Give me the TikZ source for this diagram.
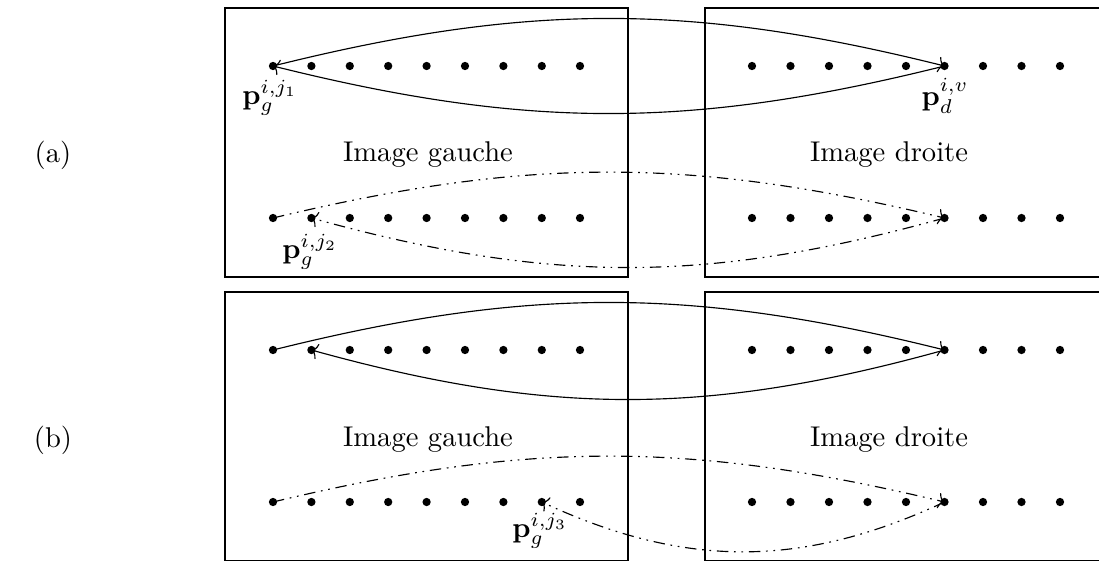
\documentclass[tikz,border=0pt]{standalone}
\usetikzlibrary{arrows.meta}
\begin{document}
\begin{tikzpicture}[x=0.35pt,y=-0.35pt,
  pt/.style={circle,fill,inner sep=0pt,minimum size=2.9pt},
  frame/.style={draw,line width=0.4pt},
  conn/.style={-{To[length=2.2pt,width=5.5pt]},line width=0.4pt},
  dd/.style={conn,dash pattern=on 4pt off 2pt on 0.6pt off 2pt on 0.6pt off 2pt}]
\useasboundingbox (0,0) rectangle (1099,561);
% frames
\node[frame,minimum width=403*0.35pt,minimum height=269*0.35pt,inner sep=0pt] (la) at (426.5,142.5) {};
\node[frame,minimum width=403*0.35pt,minimum height=269*0.35pt,inner sep=0pt] (ra) at (906.5,142.5) {};
\node[frame,minimum width=403*0.35pt,minimum height=269*0.35pt,inner sep=0pt] (lb) at (426.5,426.5) {};
\node[frame,minimum width=403*0.35pt,minimum height=269*0.35pt,inner sep=0pt] (rb) at (906.5,426.5) {};
% dots
\foreach \r/\y in {A/66,B/218,C/350,D/502}{
  \foreach \i in {1,...,8}{
    \node[pt] (g\r\i) at ({273+38.4*(\i-1)},\y) {};
  }
  \node[pt] (g\r9) at (580,\y) {};
  \foreach \i in {1,...,9}{
    \node[pt] (d\r\i) at ({752+38.5*(\i-1)},\y) {};
  }
}
% texts
\node (ta) at (53,155) {(a)};
\node (tb) at (53,440) {(b)};
\node (iga) at (428,155) {Image gauche};
\node (ida) at (889,155) {Image droite};
\node (igb) at (428,440) {Image gauche};
\node (idb) at (889,440) {Image droite};
\node (l1) at (270,98) {$\mathbf{p}_g^{i,j_1}$};
\node (l2) at (945,96) {$\mathbf{p}_d^{i,v}$};
\node (l3) at (310,252) {$\mathbf{p}_g^{i,j_2}$};
\node (l4) at (540,531) {$\mathbf{p}_g^{i,j_3}$};
% connectors
\draw[conn] (gA1.center) to[bend left=14] (dA6.center);
\draw[conn] (dA6.center) to[bend left=14] (gA1.center);
\draw[dd] (gB1.center) to[bend left=13.5] (dB6.center);
\draw[dd] (dB6.center) to[bend left=15.5] (gB2.center);
\draw[conn] (gC1.center) to[bend left=14] (dC6.center);
\draw[conn] (dC6.center) to[bend left=15.5] (gC2.center);
\draw[dd] (gD1.center) to[bend left=13.5] (dD6.center);
\draw[dd] (dD6.center) to[bend left=25] (gD8.center);
\end{tikzpicture}
\end{document}
